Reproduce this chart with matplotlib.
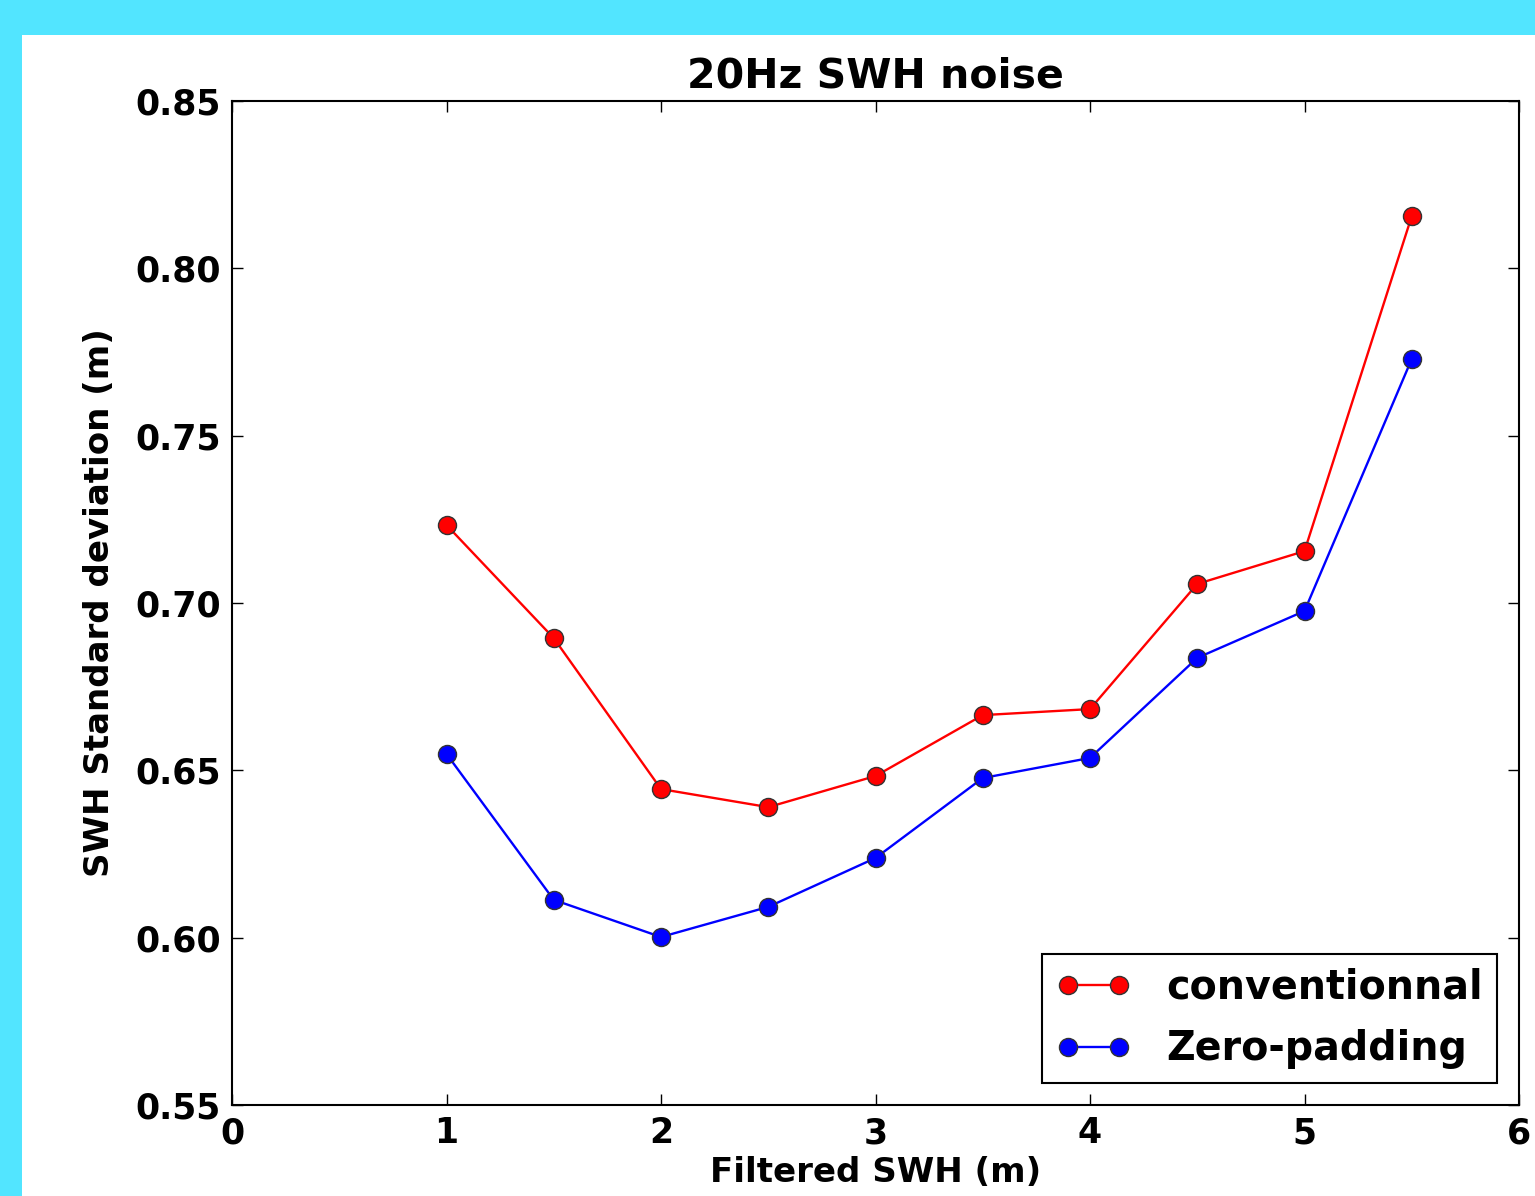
import matplotlib
matplotlib.use('Agg')
import matplotlib.pyplot as plt
from matplotlib.patches import Rectangle

# data
swh = [1.0, 1.5, 2.0, 2.5, 3.0, 3.5, 4.0, 4.5, 5.0, 5.5]
conventionnal = [0.7233, 0.6895, 0.6444, 0.6390, 0.6483, 0.6665, 0.6683, 0.7057, 0.7155, 0.8156]
zero_padding = [0.6549, 0.6113, 0.6002, 0.6092, 0.6238, 0.6477, 0.6537, 0.6836, 0.6976, 0.7729]

xticks = [0, 1, 2, 3, 4, 5, 6]
yticks = [0.55, 0.60, 0.65, 0.70, 0.75, 0.80, 0.85]

plt.rcParams['font.weight'] = 'bold'
plt.rcParams['axes.labelweight'] = 'bold'
plt.rcParams['axes.titleweight'] = 'bold'

fig = plt.figure(figsize=(15.35, 11.96), dpi=100, facecolor='#52e5ff')
# white page inside the cyan frame
fig.patches.append(Rectangle((22/1535, 0), 1, 1 - 35/1196, transform=fig.transFigure,
                             facecolor='white', edgecolor='none', zorder=-10))

ax = fig.add_axes([232/1535, 1 - 1105/1196, (1519-232)/1535, (1105-101)/1196])

ax.plot(swh, conventionnal, '-o', color='red', lw=1.7, ms=13, mec='#333333', mew=1,
        label='conventionnal')
ax.plot(swh, zero_padding, '-o', color='blue', lw=1.7, ms=13, mec='#333333', mew=1,
        label='Zero-padding')

ax.set_xlim(0, 6)
ax.set_ylim(0.55, 0.85)
ax.set_xticks(xticks)
ax.set_yticks(yticks)
ax.set_yticklabels(['%.2f' % v for v in yticks])
ax.tick_params(direction='in', top=True, right=True, length=8, width=1,
               labelsize=25, pad=8)
for s in ax.spines.values():
    s.set_linewidth(1.5)

ax.set_title('20Hz SWH noise', fontsize=29.5, pad=10)
ax.set_xlabel('Filtered SWH (m)', fontsize=24.5, labelpad=4)
ax.set_ylabel('SWH Standard deviation (m)', fontsize=24.5, labelpad=14)

leg = ax.legend(loc='lower right', numpoints=2, fontsize=28.5, fancybox=False,
                framealpha=1, borderaxespad=0.55, handlelength=1.9,
                labelspacing=0.55, borderpad=0.35, handletextpad=0.9)
leg.get_frame().set_edgecolor('black')
leg.get_frame().set_linewidth(1.5)

fig.savefig('out.png', dpi=100, facecolor=fig.get_facecolor())
